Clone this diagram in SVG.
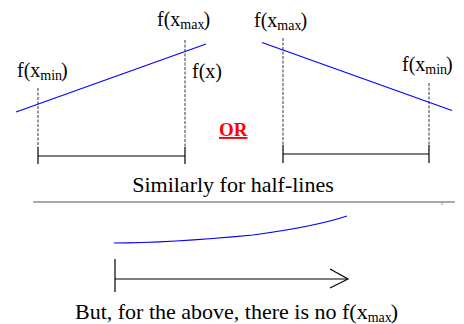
<svg xmlns="http://www.w3.org/2000/svg" width="464" height="324" viewBox="0 0 464 324">
<style>
.t{font-family:'Liberation Serif','Times New Roman',serif;fill:#000}
.lbl{font-size:20px}
.sub{font-size:14px}
.big{font-size:22px}
.blue{stroke:#0000ff;stroke-width:1.2;fill:none}
.dash{stroke:#333;stroke-width:1;stroke-dasharray:3,1.5;fill:none}
.solid{stroke:#000;stroke-width:1.2;fill:none}
</style>
<rect width="464" height="324" fill="#fff"/>
<g id="connectors">
<line class="blue" x1="16" y1="112" x2="206" y2="44"/>
<line class="dash" x1="38" y1="88" x2="38" y2="147"/>
<line class="solid" x1="38" y1="147" x2="38" y2="164"/>
<line class="dash" x1="185" y1="40" x2="185" y2="147"/>
<line class="solid" x1="185" y1="147" x2="185" y2="164"/>
<line class="solid" x1="38" y1="156" x2="185" y2="156"/>
<line class="blue" x1="262" y1="42.5" x2="452" y2="110.5"/>
<line class="dash" x1="283" y1="38" x2="283" y2="145"/>
<line class="solid" x1="283" y1="145" x2="283" y2="163"/>
<line class="dash" x1="429" y1="83" x2="429" y2="145"/>
<line class="solid" x1="429" y1="145" x2="429" y2="163"/>
<line class="solid" x1="283" y1="154" x2="429" y2="154"/>
<line x1="33" y1="202" x2="455" y2="202" stroke="#555" stroke-width="1.2"/>
<line x1="442" y1="202" x2="442" y2="205" stroke="#888" stroke-width="0.8"/>
<path class="blue" d="M114,243 C160,243 200,240 253,235 C290,230 320,225 347,216"/>
<line class="solid" x1="115" y1="259" x2="115" y2="292"/>
<line class="solid" x1="115" y1="279" x2="347" y2="279"/>
<polyline class="solid" points="330,269 348,279 330,288"/>
</g>
<g id="label-fxmin-left"><text class="t lbl" font-family="Liberation Serif, serif" x="17" y="77">f(x<tspan class="sub" dy="3">min</tspan><tspan dx="-1" dy="-3">)</tspan></text></g>
<g id="label-fxmax-left"><text class="t lbl" font-family="Liberation Serif, serif" x="157" y="26">f(x<tspan class="sub" dy="3">max</tspan><tspan dx="-1" dy="-3">)</tspan></text></g>
<g id="label-fx"><text class="t lbl" font-family="Liberation Serif, serif" x="192" y="78">f(x)</text></g>
<g id="label-fxmax-right"><text class="t lbl" font-family="Liberation Serif, serif" x="254" y="27">f(x<tspan class="sub" dy="3">max</tspan><tspan dx="-1" dy="-3">)</tspan></text></g>
<g id="label-fxmin-right"><text class="t lbl" font-family="Liberation Serif, serif" x="402" y="71">f(x<tspan class="sub" dy="3">min</tspan><tspan dx="-1" dy="-3">)</tspan></text></g>
<g id="or"><text class="t" font-family="Liberation Serif, serif" x="219" y="136" font-size="19" font-weight="bold" style="fill:#ff0000" text-decoration="underline">OR</text></g>
<g id="similarly"><text class="t big" font-family="Liberation Serif, serif" x="233" y="192" text-anchor="middle">Similarly for half-lines</text></g>
<g id="bottom"><text class="t big" font-family="Liberation Serif, serif" x="75" y="319">But, for the above, there is no f(x<tspan class="sub" dy="3">max</tspan><tspan dx="-1" dy="-3">)</tspan></text></g>
</svg>
